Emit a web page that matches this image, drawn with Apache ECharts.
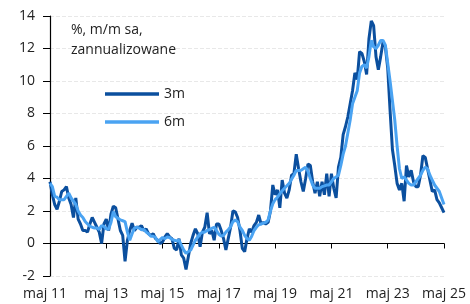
<!DOCTYPE html>
<html>
<head>
<meta charset="utf-8">
<script src="https://cdn.jsdelivr.net/npm/echarts@6/dist/echarts.min.js"></script>
<style>html,body{margin:0;padding:0;background:#fff}#c{width:470px;height:304px}</style>
</head>
<body>
<div id="c"></div>
<script>
// Monthly data, maj 2011 .. maj 2025
var startYear = 2011, startMonth = 4; // May (0-based)
var monthNames = ['sty','lut','mar','kwi','maj','cze','lip','sie','wrz','paź','lis','gru'];
var seriesNames = ['3m', '6m'];
var yTicks = { min: -2, max: 14, interval: 2 };
var noteText = ['%, m/m sa,', 'zannualizowane'];

var s3m = [3.8,3.0,2.4,2.1,2.6,3.2,3.3,3.5,2.8,2.4,
1.6,2.8,1.5,1.2,0.8,0.8,0.7,1.2,1.6,1.3,
1.0,0.7,0.0,1.2,1.5,0.8,1.8,2.3,2.2,1.5,
0.8,0.5,-1.1,0.2,0.8,1.25,0.8,1.0,1.0,1.1,
0.8,0.9,0.6,0.5,0.6,0.3,0.2,0.0,0.1,0.4,
0.6,0.4,0.3,-0.3,-0.4,0.3,-0.7,-0.9,-1.6,-0.8,
0.0,0.5,0.9,0.6,-0.2,0.7,1.0,1.9,0.6,0.8,
0.2,1.2,1.2,0.8,0.3,-0.4,0.3,1.0,2.0,1.95,
1.6,0.8,-0.3,-0.5,0.3,0.9,0.7,1.1,1.3,1.75,
1.2,1.3,1.2,1.3,2.0,3.6,3.0,3.3,2.2,3.9,
3.1,2.8,3.3,4.2,4.3,5.5,4.6,3.8,3.2,4.0,
4.9,4.8,3.8,3.1,3.8,2.9,3.8,3.0,4.3,2.9,
4.3,3.4,2.8,4.7,5.3,6.7,7.2,7.8,8.6,9.4,
10.5,10.1,11.8,11.7,11.2,10.4,12.6,13.7,13.4,11.5,
10.7,11.5,12.4,12.1,10.8,8.2,5.8,4.8,3.7,3.3,
3.7,2.6,4.8,4.1,4.5,3.8,3.5,3.5,4.2,5.4,
5.3,4.6,3.9,3.2,3.3,2.7,2.5,2.2,1.9];

var s6m = [3.7,3.5,2.9,2.85,2.7,2.7,2.7,2.9,3.1,2.8,
2.6,2.4,2.0,1.75,1.6,1.35,1.2,1.07,1.0,0.95,
0.95,0.87,1.1,1.05,0.9,0.9,1.3,1.96,1.65,1.55,
1.45,1.4,1.35,0.7,0.2,0.6,0.95,1.0,0.95,0.85,
0.87,0.7,0.6,0.45,0.45,0.37,0.1,0.25,0.37,0.3,
0.4,0.37,0.25,0.2,0.16,0.2,-0.1,-0.4,-0.6,-0.5,
-0.4,-0.1,0.2,0.4,0.6,0.7,0.7,0.8,0.85,0.93,
1.0,0.8,0.57,0.45,0.5,0.7,0.85,1.03,1.34,1.44,
1.34,1.0,0.8,0.5,0.3,0.2,0.45,0.8,1.0,1.15,
1.2,1.25,1.3,1.45,2.0,2.45,2.7,2.85,3.05,3.25,
3.4,3.55,3.7,3.95,4.2,4.5,4.5,4.5,4.6,4.7,
4.45,4.0,3.6,3.4,3.4,3.4,3.5,3.55,3.6,3.6,
3.8,4.0,4.1,4.2,4.8,5.5,6.0,6.8,7.6,8.6,
9.0,9.4,10.5,10.9,11.0,10.8,11.5,12.5,12.1,12.0,
12.2,12.5,12.5,12.2,11.1,10.0,8.8,7.6,6.0,4.6,
4.0,4.1,3.9,3.7,3.6,3.6,3.8,4.0,4.2,4.5,
4.7,4.6,4.2,3.9,3.6,3.4,3.2,2.8,2.4];

var categories = [];
for (var i = 0; i < s3m.length; i++) {
  var m = (startMonth + i) % 12;
  var y = startYear + Math.floor((startMonth + i) / 12);
  categories.push(monthNames[m] + ' ' + String(y).slice(2));
}

var FONT = '"Open Sans", "DejaVu Sans", sans-serif';
var TXT = '#222222';
var DARK = '#0b4f9e';
var LIGHT = '#4aa3f2';

var chart = echarts.init(document.getElementById('c'), null, { renderer: 'canvas' });
chart.setOption({
  animation: false,
  backgroundColor: '#ffffff',
  textStyle: { fontFamily: FONT },
  grid: { left: 50, right: 26, top: 16, bottom: 28, containLabel: false, outerBoundsMode: 'none' },
  title: {
    text: noteText.join('\n'),
    left: 66, top: 15,
    textStyle: { fontFamily: FONT, fontSize: 14, fontWeight: 'normal', color: TXT, lineHeight: 20 }
  },
  legend: {
    orient: 'vertical',
    left: 100, top: 82,
    icon: 'rect',
    itemWidth: 54, itemHeight: 3.5, itemGap: 14,
    data: seriesNames,
    textStyle: { fontFamily: FONT, fontSize: 14, color: TXT, lineHeight: 14 }
  },
  xAxis: {
    type: 'category',
    data: categories,
    boundaryGap: false,
    axisLine: { onZero: true, lineStyle: { color: '#000', width: 1.2 } },
    axisTick: { show: true, interval: 23, length: 5, lineStyle: { color: '#000' } },
    axisLabel: {
      interval: 23, margin: 11, fontSize: 14, color: TXT, fontFamily: FONT,
      formatter: function (v, idx) { return idx === 0 ? '{a|' + v + '}' : v; },
      rich: { a: { fontSize: 14, color: TXT, fontFamily: FONT, padding: [0, 10, 0, 0] } }
    },
    splitLine: { show: false }
  },
  yAxis: {
    type: 'value',
    min: yTicks.min, max: yTicks.max, interval: yTicks.interval,
    axisLine: { show: true, lineStyle: { color: '#000', width: 1.2 } },
    axisTick: { show: true, length: 7, lineStyle: { color: '#000' } },
    axisLabel: { margin: 15, fontSize: 14, color: TXT, fontFamily: FONT },
    splitLine: { show: true, lineStyle: { color: '#e8e8e8', type: 'dashed', width: 1 } }
  },
  series: [
    { name: seriesNames[0], type: 'line', data: s3m, symbol: 'none', lineStyle: { color: DARK, width: 3 }, itemStyle: { color: DARK } },
    { name: seriesNames[1], type: 'line', data: s6m, symbol: 'none', lineStyle: { color: LIGHT, width: 3 }, itemStyle: { color: LIGHT } }
  ]
});
</script>
</body>
</html>
